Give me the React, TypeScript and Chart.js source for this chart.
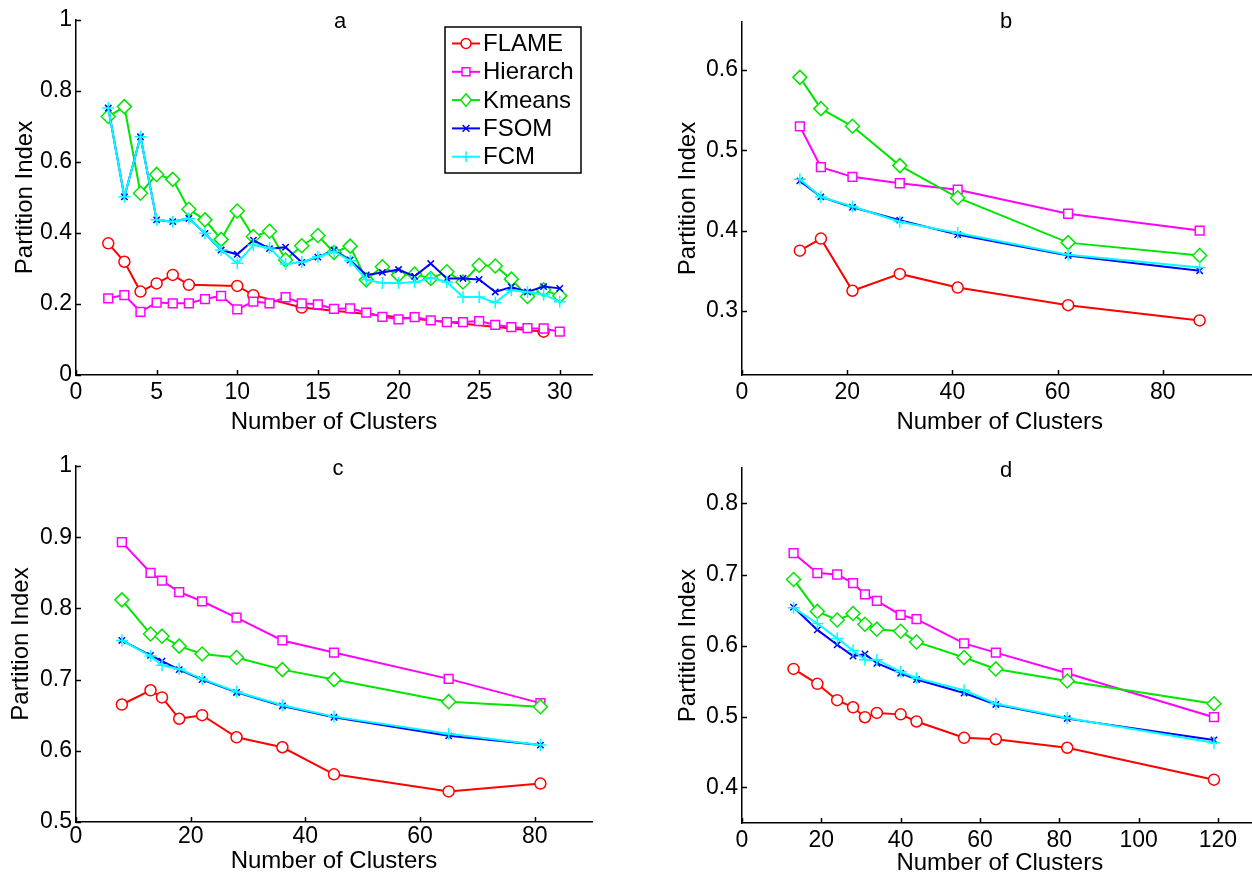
import React, { useEffect, useRef } from "react";
import { Chart, registerables } from "chart.js";
Chart.register(...registerables);

const FONT = '"Liberation Sans", Arial, Helvetica, sans-serif';

const SERIES_NAMES = ["FLAME", "Hierarch", "Kmeans", "FSOM", "FCM"];
const X_TITLE = "Number of Clusters";
const Y_TITLE = "Partition Index";

// ---- Panel a ----
const A_X_FLAME = [2, 3, 4, 5, 6, 7, 10, 11, 14, 29];
const A_FLAME = [0.371, 0.319, 0.235, 0.258, 0.282, 0.254, 0.251, 0.225, 0.19, 0.122];
const A_X = [2, 3, 4, 5, 6, 7, 8, 9, 10, 11, 12, 13, 14, 15, 16, 17, 18, 19, 20, 21, 22, 23, 24, 25, 26, 27, 28, 29, 30];
const A_HIERARCH = [0.216, 0.225, 0.178, 0.204, 0.202, 0.202, 0.214, 0.223, 0.185, 0.207, 0.202, 0.219, 0.202, 0.199, 0.186, 0.188, 0.176, 0.164, 0.157, 0.163, 0.154, 0.149, 0.149, 0.152, 0.141, 0.135, 0.132, 0.131, 0.122];
const A_KMEANS = [0.728, 0.756, 0.512, 0.565, 0.551, 0.467, 0.437, 0.382, 0.462, 0.39, 0.405, 0.324, 0.364, 0.393, 0.345, 0.363, 0.268, 0.305, 0.282, 0.284, 0.272, 0.291, 0.262, 0.309, 0.307, 0.27, 0.221, 0.24, 0.223];
const A_FSOM = [0.752, 0.502, 0.671, 0.437, 0.432, 0.441, 0.399, 0.352, 0.34, 0.38, 0.356, 0.36, 0.317, 0.332, 0.352, 0.324, 0.282, 0.289, 0.297, 0.278, 0.314, 0.272, 0.272, 0.269, 0.234, 0.248, 0.234, 0.249, 0.244];
const A_FCM = [0.752, 0.502, 0.671, 0.437, 0.432, 0.441, 0.399, 0.352, 0.315, 0.366, 0.358, 0.313, 0.318, 0.333, 0.348, 0.322, 0.268, 0.259, 0.259, 0.261, 0.274, 0.262, 0.22, 0.22, 0.204, 0.239, 0.234, 0.227, 0.206];
const A_X_TICKS = [0, 5, 10, 15, 20, 25, 30];
const A_Y_TICKS = [0, 0.2, 0.4, 0.6, 0.8, 1];

// ---- Panel b ----
const B_X = [11, 15, 21, 30, 41, 62, 87];
const B_FLAME = [0.375, 0.39, 0.325, 0.346, 0.329, 0.307, 0.288];
const B_HIERARCH = [0.53, 0.479, 0.467, 0.459, 0.451, 0.421, 0.4];
const B_KMEANS = [0.591, 0.552, 0.53, 0.481, 0.441, 0.385, 0.369];
const B_FSOM = [0.462, 0.442, 0.429, 0.413, 0.395, 0.369, 0.35];
const B_FCM = [0.464, 0.442, 0.43, 0.411, 0.397, 0.37, 0.354];
const B_X_TICKS = [0, 20, 40, 60, 80];
const B_Y_TICKS = [0.3, 0.4, 0.5, 0.6];

// ---- Panel c ----
const C_X = [8, 13, 15, 18, 22, 28, 36, 45, 65, 81];
const C_FLAME = [0.665, 0.685, 0.675, 0.645, 0.65, 0.619, 0.605, 0.567, 0.543, 0.554];
const C_HIERARCH = [0.893, 0.85, 0.839, 0.823, 0.81, 0.787, 0.755, 0.738, 0.701, 0.667];
const C_KMEANS = [0.812, 0.764, 0.761, 0.747, 0.736, 0.731, 0.714, 0.7, 0.669, 0.662];
const C_FSOM = [0.755, 0.734, 0.726, 0.714, 0.7, 0.682, 0.663, 0.647, 0.621, 0.608];
const C_FCM = [0.755, 0.733, 0.72, 0.715, 0.701, 0.683, 0.664, 0.648, 0.624, 0.608];
const C_X_TICKS = [0, 20, 40, 60, 80];
const C_Y_TICKS = [0.5, 0.6, 0.7, 0.8, 0.9, 1];

// ---- Panel d ----
const D_X = [13, 19, 24, 28, 31, 34, 40, 44, 56, 64, 82, 119];
const D_FLAME = [0.567, 0.546, 0.523, 0.513, 0.499, 0.505, 0.503, 0.493, 0.47, 0.468, 0.456, 0.411];
const D_HIERARCH = [0.73, 0.702, 0.7, 0.688, 0.672, 0.663, 0.643, 0.637, 0.603, 0.59, 0.561, 0.499];
const D_KMEANS = [0.693, 0.648, 0.636, 0.645, 0.63, 0.623, 0.62, 0.605, 0.583, 0.567, 0.55, 0.518];
const D_FSOM = [0.654, 0.622, 0.601, 0.585, 0.588, 0.575, 0.561, 0.552, 0.533, 0.517, 0.497, 0.467];
const D_FCM = [0.653, 0.631, 0.61, 0.593, 0.58, 0.58, 0.563, 0.554, 0.537, 0.518, 0.498, 0.463];
const D_X_TICKS = [0, 20, 40, 60, 80, 100, 120];
const D_Y_TICKS = [0.4, 0.5, 0.6, 0.7, 0.8];

// ---- styles ----
const COLORS = ["#ff0000", "#ff00ff", "#00e600", "#0000ff", "#00ffff"];
const MARKERS = ["circle", "rect", "rectRot", "crossRot", "cross"];
const RADII = [5.5, 6.2, 7, 4.5, 6];

type Series = { x: number[]; y: number[] };
type PanelCfg = {
  key: string;
  left: number; top: number; width: number; height: number;
  pad: { left: number; top: number; right: number; bottom: number };
  yWidth: number; xHeight: number;
  xMin: number; xMax: number; yMin: number; yMax: number;
  xTicks: number[]; yTicks: number[];
  series: Series[];
  title: string; titleX: number; titleY: number;
  yTitlePad: number; xTitlePad: number; xTickPad: number;
  legend: boolean;
};

const PANELS: PanelCfg[] = [
  {
    key: "a", left: 0, top: 0, width: 620, height: 440,
    pad: { left: 0, top: 20, right: 28, bottom: 0 }, yWidth: 76, xHeight: 65,
    xMin: 0, xMax: 32, yMin: 0, yMax: 1, xTicks: A_X_TICKS, yTicks: A_Y_TICKS,
    series: [
      { x: A_X_FLAME, y: A_FLAME }, { x: A_X, y: A_HIERARCH }, { x: A_X, y: A_KMEANS },
      { x: A_X, y: A_FSOM }, { x: A_X, y: A_FCM },
    ],
    title: "a", titleX: 340, titleY: 28, yTitlePad: 11, xTitlePad: 3, xTickPad: 3.7, legend: true,
  },
  {
    key: "b", left: 640, top: 0, width: 640, height: 440,
    pad: { left: 0, top: 22, right: 22.5, bottom: 0 }, yWidth: 102, xHeight: 65,
    xMin: 0, xMax: 98, yMin: 0.22, yMax: 0.66, xTicks: B_X_TICKS, yTicks: B_Y_TICKS,
    series: [
      { x: B_X, y: B_FLAME }, { x: B_X, y: B_HIERARCH }, { x: B_X, y: B_KMEANS },
      { x: B_X, y: B_FSOM }, { x: B_X, y: B_FCM },
    ],
    title: "b", titleX: 1006, titleY: 28, yTitlePad: 33.6, xTitlePad: 3, xTickPad: 3.7, legend: false,
  },
  {
    key: "c", left: 0, top: 440, width: 620, height: 440,
    pad: { left: 0, top: 26, right: 28, bottom: 0 }, yWidth: 76, xHeight: 58,
    xMin: 0, xMax: 90, yMin: 0.5, yMax: 1, xTicks: C_X_TICKS, yTicks: C_Y_TICKS,
    series: [
      { x: C_X, y: C_FLAME }, { x: C_X, y: C_HIERARCH }, { x: C_X, y: C_KMEANS },
      { x: C_X, y: C_FSOM }, { x: C_X, y: C_FCM },
    ],
    title: "c", titleX: 338, titleY: 475, yTitlePad: 6.6, xTitlePad: 4, xTickPad: 1, legend: false,
  },
  {
    key: "d", left: 640, top: 440, width: 640, height: 440,
    pad: { left: 0, top: 28, right: 22.4, bottom: 0 }, yWidth: 102, xHeight: 57,
    xMin: 0, xMax: 130, yMin: 0.35, yMax: 0.85, xTicks: D_X_TICKS, yTicks: D_Y_TICKS,
    series: [
      { x: D_X, y: D_FLAME }, { x: D_X, y: D_HIERARCH }, { x: D_X, y: D_KMEANS },
      { x: D_X, y: D_FSOM }, { x: D_X, y: D_FCM },
    ],
    title: "d", titleX: 1006, titleY: 477, yTitlePad: 33.6, xTitlePad: 2.3, xTickPad: 3.7, legend: false,
  },
];

function fmt(v: number): string {
  return String(Math.round(v * 100) / 100);
}

function drawMarker(ctx: CanvasRenderingContext2D, style: string, x: number, y: number, r: number, color: string) {
  ctx.save();
  ctx.strokeStyle = color;
  ctx.fillStyle = "#ffffff";
  ctx.lineWidth = 1.5;
  ctx.beginPath();
  if (style === "circle") {
    ctx.arc(x, y, r, 0, Math.PI * 2);
    ctx.fill();
    ctx.stroke();
  } else if (style === "rect") {
    const s = r * Math.SQRT1_2;
    ctx.rect(x - s, y - s, 2 * s, 2 * s);
    ctx.fill();
    ctx.stroke();
  } else if (style === "rectRot") {
    ctx.moveTo(x, y - r);
    ctx.lineTo(x + r * 0.85, y);
    ctx.lineTo(x, y + r);
    ctx.lineTo(x - r * 0.85, y);
    ctx.closePath();
    ctx.fill();
    ctx.stroke();
  } else if (style === "crossRot") {
    const s = r * Math.SQRT1_2 * 1.2;
    ctx.moveTo(x - s, y - s); ctx.lineTo(x + s, y + s);
    ctx.moveTo(x + s, y - s); ctx.lineTo(x - s, y + s);
    ctx.stroke();
  } else {
    ctx.moveTo(x - r, y); ctx.lineTo(x + r, y);
    ctx.moveTo(x, y - r); ctx.lineTo(x, y + r);
    ctx.stroke();
  }
  ctx.restore();
}

function makeDecor(cfg: PanelCfg) {
  return {
    id: "decor_" + cfg.key,
    afterDraw(chart: any) {
      const ctx: CanvasRenderingContext2D = chart.ctx;
      const xs = chart.scales.x;
      const ys = chart.scales.y;
      ctx.save();
      ctx.strokeStyle = "#000";
      ctx.lineWidth = 1.5;
      const ca = chart.chartArea;
      for (const t of xs.ticks) {
        const p = Math.round(xs.getPixelForValue(t.value)) + 0.5;
        ctx.beginPath();
        ctx.moveTo(p, ca.bottom);
        ctx.lineTo(p, ca.bottom - 5);
        ctx.stroke();
      }
      for (const t of ys.ticks) {
        const p = Math.round(ys.getPixelForValue(t.value)) + 0.5;
        ctx.beginPath();
        ctx.moveTo(ca.left, p);
        ctx.lineTo(ca.left + 5, p);
        ctx.stroke();
      }
      ctx.fillStyle = "#000";
      ctx.font = "22px " + FONT;
      ctx.textAlign = "center";
      ctx.textBaseline = "alphabetic";
      ctx.fillText(cfg.title, cfg.titleX - cfg.left, cfg.titleY - cfg.top);
      if (cfg.legend) {
        const bx = 445 - cfg.left;
        const by = 27 - cfg.top;
        const bw = 136;
        const bh = 146;
        ctx.fillStyle = "#ffffff";
        ctx.fillRect(bx, by, bw, bh);
        ctx.strokeStyle = "#000";
        ctx.lineWidth = 1.5;
        ctx.strokeRect(bx, by, bw, bh);
        ctx.font = "24px " + FONT;
        ctx.textAlign = "left";
        ctx.textBaseline = "middle";
        for (let i = 0; i < SERIES_NAMES.length; i++) {
          const yy = by + 16.5 + i * 28.3;
          ctx.strokeStyle = COLORS[i];
          ctx.lineWidth = 2;
          ctx.beginPath();
          ctx.moveTo(bx + 7, yy);
          ctx.lineTo(bx + 35, yy);
          ctx.stroke();
          drawMarker(ctx, MARKERS[i], bx + 21, yy, RADII[i] * 0.9, COLORS[i]);
          ctx.fillStyle = "#000";
          ctx.fillText(SERIES_NAMES[i], bx + 38, yy + 1);
        }
      }
      ctx.restore();
    },
  };
}

function Panel({ cfg }: { cfg: PanelCfg }) {
  const ref = useRef<HTMLCanvasElement | null>(null);
  useEffect(() => {
    if (!ref.current) return;
    const datasets = cfg.series.map((s, i) => ({
      label: SERIES_NAMES[i],
      data: s.x.map((x, j) => ({ x, y: s.y[j] })),
      borderColor: COLORS[i],
      backgroundColor: COLORS[i],
      borderWidth: 2,
      pointStyle: MARKERS[i],
      pointRadius: RADII[i],
      pointBorderWidth: 1.5,
      pointBorderColor: COLORS[i],
      pointBackgroundColor: "#ffffff",
      showLine: true,
      tension: 0,
      order: 5 - i,
    }));
    const chart = new Chart(ref.current, {
      type: "line",
      data: { datasets } as any,
      options: {
        responsive: false,
        maintainAspectRatio: false,
        animation: false,
        events: [],
        layout: { padding: cfg.pad },
        plugins: { legend: { display: false }, tooltip: { enabled: false }, title: { display: false } },
        scales: {
          x: {
            type: "linear",
            min: cfg.xMin,
            max: cfg.xMax,
            grid: { display: false, drawTicks: false },
            border: { display: true, color: "#000", width: 1.5 },
            ticks: {
              color: "#000",
              font: { family: FONT, size: 23 },
              padding: cfg.xTickPad,
              maxRotation: 0,
              autoSkip: false,
              callback: (v: any) => fmt(Number(v)),
            },
            title: {
              display: true,
              text: X_TITLE,
              color: "#000",
              font: { family: FONT, size: 24 },
              padding: { top: 0, bottom: cfg.xTitlePad },
            },
            afterBuildTicks: (s: any) => {
              s.ticks = cfg.xTicks.map((v) => ({ value: v }));
            },
            afterFit: (s: any) => {
              s.height = cfg.xHeight;
            },
          },
          y: {
            type: "linear",
            min: cfg.yMin,
            max: cfg.yMax,
            grid: { display: false, drawTicks: false },
            border: { display: true, color: "#000", width: 1.5 },
            ticks: {
              color: "#000",
              font: { family: FONT, size: 23 },
              padding: 4,
              autoSkip: false,
              callback: (v: any) => fmt(Number(v)),
            },
            title: {
              display: true,
              text: Y_TITLE,
              color: "#000",
              font: { family: FONT, size: 24 },
              padding: { top: cfg.yTitlePad, bottom: 0 },
            },
            afterBuildTicks: (s: any) => {
              s.ticks = cfg.yTicks.map((v) => ({ value: v }));
            },
            afterFit: (s: any) => {
              s.width = cfg.yWidth;
            },
          },
        },
      } as any,
      plugins: [makeDecor(cfg)],
    });
    return () => chart.destroy();
  }, [cfg]);
  return (
    <canvas
      ref={ref}
      width={cfg.width}
      height={cfg.height}
      style={{ position: "absolute", left: cfg.left, top: cfg.top, width: cfg.width, height: cfg.height }}
    />
  );
}

export default function App() {
  return (
    <div
      style={{
        position: "fixed",
        left: 0,
        top: 0,
        width: 1252,
        height: 876,
        overflow: "hidden",
        background: "#ffffff",
      }}
    >
      {PANELS.map((p) => (
        <Panel key={p.key} cfg={p} />
      ))}
    </div>
  );
}
